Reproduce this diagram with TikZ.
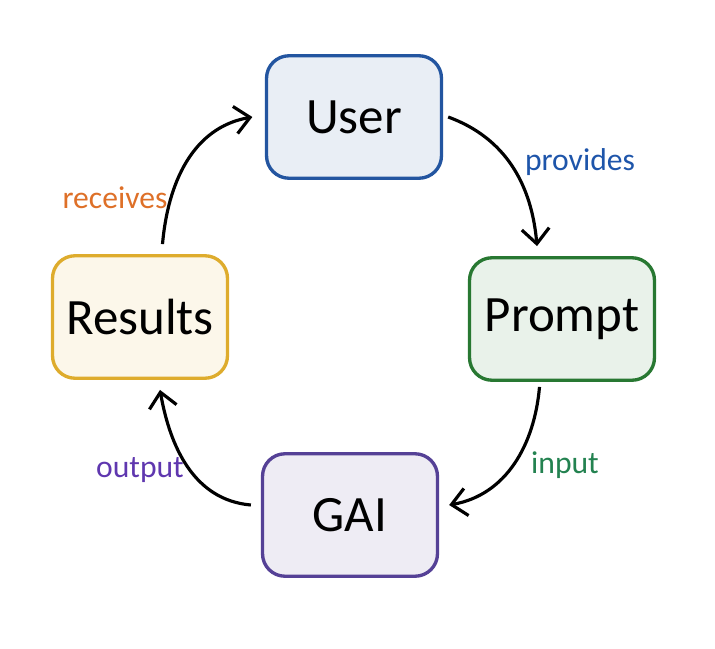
\documentclass[tikz,border=0pt]{standalone}
\usepackage{fontspec}
\setmainfont{Carlito}
\usepackage{tikz}
\usetikzlibrary{arrows.meta,patterns}

\definecolor{userblue}{RGB}{35,85,160}
\definecolor{promptgreen}{RGB}{40,120,50}
\definecolor{resgold}{RGB}{222,172,45}
\definecolor{gaipurple}{RGB}{85,65,150}
\definecolor{lblblue}{RGB}{30,85,170}
\definecolor{lblgreen}{RGB}{35,130,80}
\definecolor{lblpurple}{RGB}{95,55,175}
\definecolor{lblorange}{RGB}{222,112,40}

\begin{document}
\begin{tikzpicture}[x=0.02cm, y=-0.02cm,
    box/.style={draw=#1, fill=#1!10, line width=1.9pt, rounded corners=0.45cm,
                minimum width=3.5cm, minimum height=2.45cm,
                font=\fontsize{29}{34}\selectfont},
    lbl/.style={text=#1, font=\fontsize{18}{20}\selectfont},
    flow/.style={-{Straight Barb[length=3mm,width=5.5mm]}, line width=1.8pt}]
\useasboundingbox (0,0) rectangle (715,648);

% the four stages
\node[box=userblue]    (user)    at (354,117) {User};
\node[box=promptgreen, minimum width=3.7cm] (prompt) at (562,319) {Prompt};
\node[box=resgold]     (results) at (140,317) {Results};
\node[box=gaipurple]   (gai)     at (350,515) {GAI};

% labels
\node[lbl=lblblue]   (provides) at (580,162) {provides};
\node[lbl=lblgreen]  (input)    at (565,465) {input};
\node[lbl=lblpurple] (output)   at (140,470) {output};
\node[lbl=lblorange] (receives) at (115,198) {receives};

% the cycle
\draw[flow] ([xshift=0.1cm]user.east) to[out=-20, in=95] ([xshift=-0.5cm, yshift=0.2cm]prompt.north);
\draw[flow] ([xshift=-0.45cm, yshift=-0.1cm]prompt.south) to[out=-95, in=10] ([xshift=0.2cm, yshift=0.2cm]gai.east);
\draw[flow] ([xshift=-0.2cm, yshift=0.2cm]gai.west) to[out=175, in=-80] ([xshift=0.4cm, yshift=-0.2cm]results.south);
\draw[flow] ([xshift=0.45cm, yshift=0.2cm]results.north) to[out=85, in=190] ([xshift=-0.25cm]user.west);
\end{tikzpicture}
\end{document}
